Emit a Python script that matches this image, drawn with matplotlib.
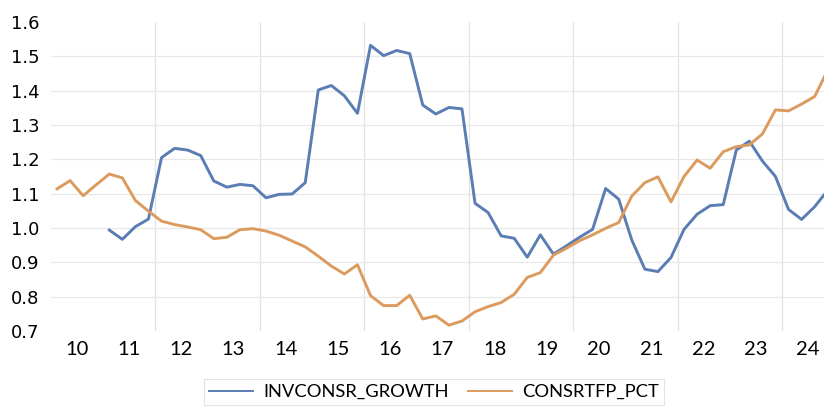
import matplotlib.pyplot as plt
import numpy as np

# quarterly series, 2010Q1 .. 2024Q4
inv_growth = [np.nan, np.nan, np.nan, np.nan,
              0.994, 0.967, 1.004, 1.026,
              1.205, 1.232, 1.227, 1.211,
              1.137, 1.119, 1.127, 1.123,
              1.088, 1.098, 1.099, 1.132,
              1.402, 1.415, 1.385, 1.334,
              1.532, 1.502, 1.517, 1.508,
              1.358, 1.332, 1.351, 1.347,
              1.072, 1.045, 0.977, 0.970,
              0.915, 0.980, 0.924, 0.948,
              0.973, 0.996, 1.115, 1.084,
              0.965, 0.880, 0.873, 0.914,
              0.996, 1.040, 1.065, 1.068,
              1.227, 1.253, 1.195, 1.150,
              1.054, 1.025, 1.062, 1.110]
consr_tfp = [1.114, 1.138, 1.094, 1.126,
             1.157, 1.146, 1.080, 1.049,
             1.020, 1.010, 1.003, 0.995,
             0.969, 0.973, 0.995, 0.998,
             0.991, 0.979, 0.962, 0.945,
             0.918, 0.889, 0.866, 0.893,
             0.803, 0.774, 0.774, 0.804,
             0.735, 0.744, 0.717, 0.729,
             0.756, 0.771, 0.783, 0.807,
             0.856, 0.870, 0.921, 0.941,
             0.963, 0.980, 0.999, 1.016,
             1.093, 1.132, 1.149, 1.076,
             1.150, 1.198, 1.174, 1.222,
             1.237, 1.242, 1.274, 1.344,
             1.341, 1.361, 1.383, 1.460]
years = list(range(2010, 2025))
year_labels = [str(y % 100) for y in years]

t = np.array([y + (q + 0.5) / 4 for y in years for q in range(4)])

plt.rcParams['font.family'] = ['DejaVu Sans']
fig = plt.figure(figsize=(8.24, 4.07), dpi=100)
ax = fig.add_axes([50.5 / 824, 1 - 331 / 407, 1 - 50.5 / 824, 309 / 407])

blue = '#5a7db3'
orange = '#dc9b5e'
ax.plot(t, inv_growth, color=blue, lw=2.1, label='INVCONSR_GROWTH')
ax.plot(t, consr_tfp, color=orange, lw=2.1, label='CONSRTFP_PCT')

ax.set_xlim(2010, 2010 + (824 - 50.5) / 52.25)
ax.set_ylim(0.7, 1.6)

yt = np.arange(0.7, 1.61, 0.1)
ax.set_yticks(yt)
ax.set_yticklabels([f'{v:.1f}' for v in yt], fontsize=13)
ax.set_xticks(years[2::2], minor=False)
ax.set_xticklabels([])
ax.set_xticks([y + 0.5 for y in years], minor=True)
ax.set_xticklabels(year_labels, minor=True, fontsize=14.5, family='Lato')
ax.tick_params(axis='both', which='both', length=0)
ax.tick_params(axis='x', which='minor', pad=7)
ax.tick_params(axis='y', pad=8)

ax.grid(axis='y', color='#e8e8e8', lw=0.9)
ax.grid(axis='x', which='major', color='#e3e3e3', lw=0.9)
gl = ax.get_ygridlines()
gl[0].set_visible(False)
gl[-1].set_visible(False)
for s in ax.spines.values():
    s.set_visible(False)
ax.set_axisbelow(True)

leg = ax.legend(loc='center', bbox_to_anchor=(434 / 824, 1 - 392 / 407), bbox_transform=fig.transFigure,
                ncol=2, frameon=True, fancybox=False, edgecolor='#dcdcdc',
                prop={'family': 'Lato', 'size': 13.2}, handlelength=2.4, columnspacing=1.0,
                borderpad=0.25, handletextpad=0.6)
leg.get_frame().set_linewidth(0.8)
for ln in leg.get_lines():
    ln.set_linewidth(1.4)

fig.savefig('out.png', dpi=100)
